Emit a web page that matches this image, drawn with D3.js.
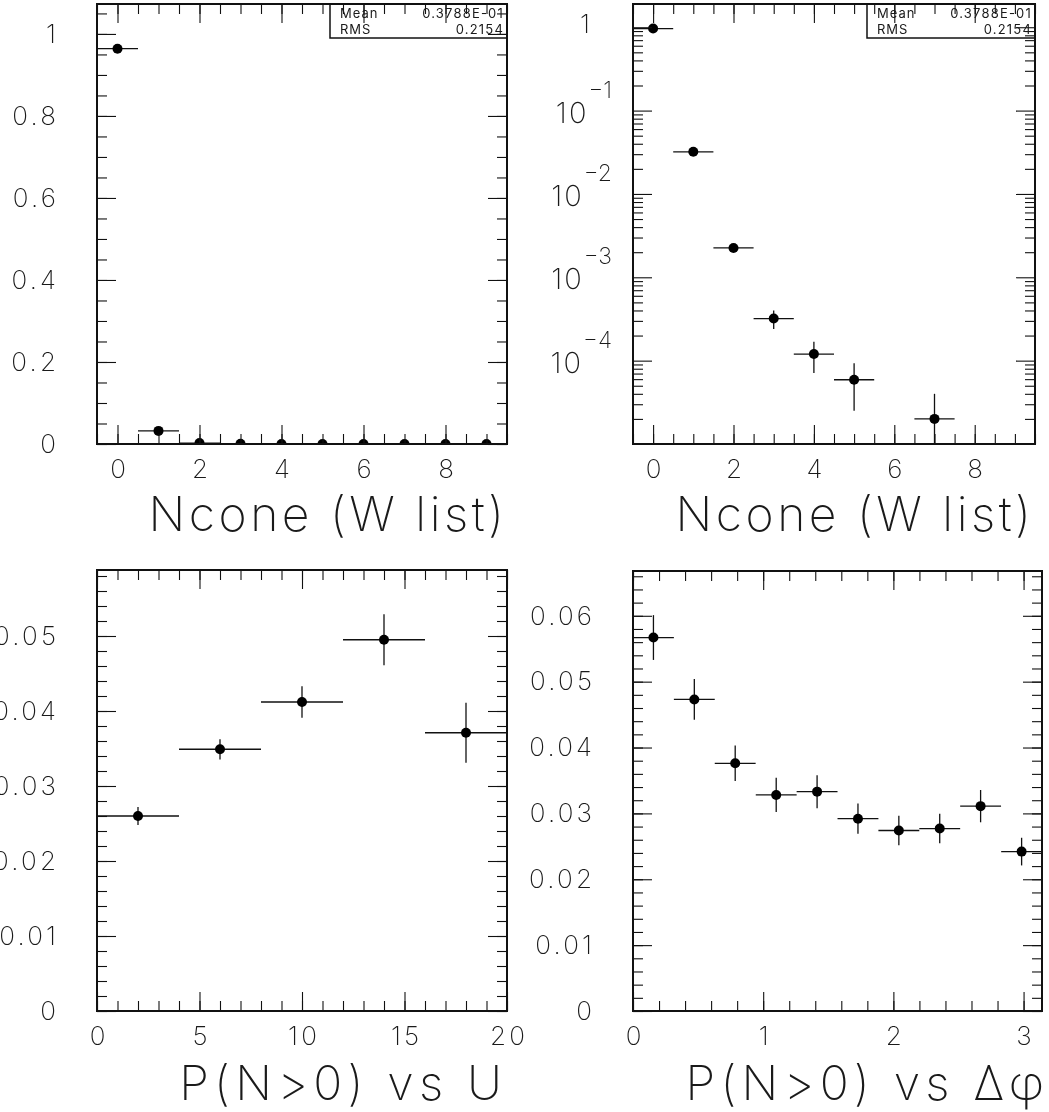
<!DOCTYPE html>
<html>
<head>
<meta charset="utf-8">
<script src="https://cdn.jsdelivr.net/npm/d3@7"></script>
<style>
  html, body { margin: 0; padding: 0; background: #fff; }
  svg { display: block; filter: grayscale(1); }
  text { font-family: "Inter", "Lato", "Roboto", "DejaVu Sans", sans-serif; fill: #1a1a1a; }
</style>
</head>
<body>
<svg id="chart" width="1049" height="1112"></svg>
<script>
// ---- Ncone distribution (fraction of events per cone multiplicity) ----
const nconeBins = [0, 1, 2, 3, 4, 5, 6, 7, 8, 9];
const nconeFrac = [0.964, 0.032, 0.00225, 0.00032, 0.00012, 0.000059, 0, 0.00002, 0, 0];
const nconeErr  = [0.0044, 0.0008, 0.00021, 0.00008, 0.000049, 0.000034, 0, 0.00002, 0, 0];
const nconeTicks = [0, 2, 4, 6, 8];
const fracTicks = [0, 0.2, 0.4, 0.6, 0.8, 1];
const fracTickLabels = ["0", "0.2", "0.4", "0.6", "0.8", "1"];
const logDecades = [0, -1, -2, -3, -4];
const statNames = ["Mean", "RMS"];
const statValues = ["0.3788E-01", "0.2154"];

// ---- P(N>0) as a function of U ----
const uCentres = [2, 6, 10, 14, 18];
const uHalfWidth = 2;
const probU    = [0.0260, 0.0349, 0.0412, 0.0495, 0.0371];
const probUErr = [0.0012, 0.00135, 0.0021, 0.0034, 0.0040];
const uTicks = [0, 5, 10, 15, 20];
const probUTicks = [0, 0.01, 0.02, 0.03, 0.04, 0.05];
const probUTickLabels = ["0", "0.01", "0.02", "0.03", "0.04", "0.05"];

// ---- P(N>0) as a function of delta-phi ----
const dphiCentres = [0.157, 0.471, 0.785, 1.100, 1.414, 1.728, 2.042, 2.356, 2.670, 2.985];
const dphiHalfWidth = 0.157;
const probDphi    = [0.0567, 0.0473, 0.0376, 0.0328, 0.0333, 0.0292, 0.0274, 0.0277, 0.0311, 0.0242];
const probDphiErr = [0.0034, 0.0031, 0.0027, 0.0026, 0.0025, 0.0023, 0.00225, 0.00225, 0.00245, 0.0021];
const dphiTicks = [0, 1, 2, 3];
const probDphiTicks = [0, 0.01, 0.02, 0.03, 0.04, 0.05, 0.06];
const probDphiTickLabels = ["0", "0.01", "0.02", "0.03", "0.04", "0.05", "0.06"];

const titles = ["Ncone (W list)", "Ncone (W list)", "P(N>0) vs U", "P(N>0) vs \u0394\u03c6"];

const svg = d3.select("#chart");
const INK = "#111";
const MAJOR = 19, MINOR = 10;
const LABEL_SIZE = 26, LABEL_SPACING = 3.2;
const TITLE_SIZE = 48;

function between(v, dom) {
  const lo = Math.min(dom[0], dom[1]), hi = Math.max(dom[0], dom[1]);
  return v >= lo - 1e-9 && v <= hi + 1e-9;
}

// Inward-pointing ticks on all four sides of a frame
function drawFrame(id, x, y, xMajor, xMinor, yMajor, yMinor) {
  const [x0, x1] = x.range();
  const [y1, y0] = y.range();
  const g = svg.append("g").attr("class", "frame-" + id);
  const strip = sel => sel.select(".domain").remove();
  const style = sel => sel.selectAll("line").attr("stroke", INK).attr("stroke-width", 1.1);
  const sides = [
    [d3.axisBottom, `translate(0,${y1})`, x, xMajor, xMinor],
    [d3.axisTop, `translate(0,${y0})`, x, xMajor, xMinor],
    [d3.axisLeft, `translate(${x0},0)`, y, yMajor, yMinor],
    [d3.axisRight, `translate(${x1},0)`, y, yMajor, yMinor]
  ];
  sides.forEach(([ax, tr, sc, maj, min]) => {
    g.append("g").attr("transform", tr)
      .call(ax(sc).tickValues(min.filter(v => between(v, sc.domain()))).tickSize(-MINOR).tickFormat(""))
      .call(strip).call(style);
    g.append("g").attr("transform", tr)
      .call(ax(sc).tickValues(maj.filter(v => between(v, sc.domain()))).tickSize(-MAJOR).tickFormat(""))
      .call(strip).call(style);
  });
  g.append("rect")
    .attr("x", x0).attr("y", y0).attr("width", x1 - x0).attr("height", y1 - y0)
    .attr("fill", "none").attr("stroke", INK).attr("stroke-width", 2);
  return g;
}

function styleLabels(sel) {
  sel.select(".domain").remove();
  sel.attr("font-family", null).attr("font-size", null);
  sel.selectAll("text").attr("font-size", LABEL_SIZE).attr("font-weight", 200)
    .attr("letter-spacing", LABEL_SPACING).attr("fill", INK);
}

function labelAxes(x, y, xTicks, yTicks, yLabels) {
  const [x0] = x.range();
  const [y1] = y.range();
  svg.append("g").attr("transform", `translate(${LABEL_SPACING / 2},${y1})`)
    .call(d3.axisBottom(x).tickValues(xTicks).tickSize(0).tickPadding(16).tickFormat(d3.format("d")))
    .call(styleLabels);
  if (yTicks) {
    svg.append("g").attr("transform", `translate(${x0 + LABEL_SPACING},0)`)
      .call(d3.axisLeft(y).tickValues(yTicks).tickSize(0).tickPadding(41)
        .tickFormat((d, i) => yLabels[i]))
      .call(styleLabels);
  }
}

function title(text, xRight, baseline, spacing) {
  svg.append("text").attr("x", xRight + spacing).attr("y", baseline)
    .attr("text-anchor", "end").attr("font-size", TITLE_SIZE).attr("font-weight", 200)
    .attr("letter-spacing", spacing).attr("fill", INK).text(text);
}

let clipCount = 0;
function clipFor(x, y) {
  const id = "clip" + (clipCount++);
  const [x0, x1] = x.range();
  const [y1, y0] = y.range();
  svg.append("clipPath").attr("id", id).append("rect")
    .attr("x", x0).attr("y", y0).attr("width", x1 - x0).attr("height", y1 - y0);
  return `url(#${id})`;
}

// Points with horizontal bin-width bars and vertical statistical error bars
function drawPoints(x, y, centres, half, vals, errs, floor) {
  const g = svg.append("g").attr("clip-path", clipFor(x, y));
  const rows = centres.map((c, i) => ({ c, v: vals[i], e: errs[i] }))
    .filter(d => floor === undefined || d.v > 0);
  const yv = v => (floor !== undefined ? y(Math.max(v, floor)) : y(v));
  g.selectAll("line.h").data(rows).join("line").attr("class", "h")
    .attr("x1", d => x(d.c - half)).attr("x2", d => x(d.c + half))
    .attr("y1", d => yv(d.v)).attr("y2", d => yv(d.v))
    .attr("stroke", INK).attr("stroke-width", 1.3);
  g.selectAll("line.v").data(rows.filter(d => d.e > 0)).join("line").attr("class", "v")
    .attr("x1", d => x(d.c)).attr("x2", d => x(d.c))
    .attr("y1", d => yv(d.v - d.e)).attr("y2", d => yv(d.v + d.e))
    .attr("stroke", INK).attr("stroke-width", 1.3);
  g.selectAll("circle").data(rows).join("circle")
    .attr("cx", d => x(d.c)).attr("cy", d => yv(d.v)).attr("r", 5).attr("fill", "#000");
}

function statsBox(xLeft, xRight, yTop, yBottom) {
  const g = svg.append("g");
  g.append("rect").attr("x", xLeft).attr("y", yTop)
    .attr("width", xRight - xLeft).attr("height", yBottom - yTop)
    .attr("fill", "none").attr("stroke", INK).attr("stroke-width", 1.5);
  statNames.forEach((n, i) => {
    const base = yTop + 14 + i * 16;
    g.append("text").attr("x", xLeft + 10).attr("y", base)
      .attr("font-size", 13).attr("letter-spacing", 1).attr("fill", INK).text(n);
    g.append("text").attr("x", xRight - 3).attr("y", base).attr("text-anchor", "end")
      .attr("font-size", 13).attr("letter-spacing", 1.2).attr("fill", INK).text(statValues[i]);
  });
}

// ---------- Panel 1: Ncone, linear ----------
{
  const x = d3.scaleLinear([-0.5, 9.5], [97, 507]);
  const y = d3.scaleLinear([0, 1.073], [444, 4]);
  drawPoints(x, y, nconeBins, 0.5, nconeFrac, nconeErr);
  drawFrame("ncone-lin", x, y, nconeTicks, d3.range(-0.5, 9.51, 0.5),
    fracTicks, d3.range(0, 1.0751, 0.05));
  labelAxes(x, y, nconeTicks, fracTicks, fracTickLabels);
  statsBox(330, 507, 4, 38);
  title(titles[0], 504, 531, 3.5);
}

// ---------- Panel 2: Ncone, logarithmic ----------
{
  const x = d3.scaleLinear([-0.5, 9.5], [633, 1035]);
  const y = d3.scaleLog([1e-5, 1.9], [444, 4]);
  const majors = logDecades.map(e => Math.pow(10, e));
  const minors = [];
  for (let e = -5; e <= 0; e++) for (let m = 2; m <= 9; m++) minors.push(m * Math.pow(10, e));
  drawPoints(x, y, nconeBins, 0.5, nconeFrac, nconeErr, 1e-6);
  drawFrame("ncone-log", x, y, nconeTicks, d3.range(-0.5, 9.51, 0.5), majors, minors);
  labelAxes(x, y, nconeTicks, null, null);
  const lg = svg.append("g");
  logDecades.forEach(e => {
    const ty = y(Math.pow(10, e));
    if (e === 0) {
      lg.append("text").attr("x", 590).attr("y", ty + 6).attr("text-anchor", "end")
        .attr("font-size", LABEL_SIZE).attr("font-weight", 200).text("1");
    } else {
      const t = lg.append("text").attr("x", 612).attr("y", ty + 12).attr("text-anchor", "end")
        .attr("font-size", 29).attr("font-weight", 200);
      t.append("tspan").attr("letter-spacing", 2).text("10");
      t.append("tspan").attr("dy", -25).attr("font-size", 23).text("\u2212" + (-e));
    }
  });
  statsBox(867, 1035, 4, 38);
  title(titles[1], 1031, 531, 3.5);
}

// ---------- Panel 3: P(N>0) vs U ----------
{
  const x = d3.scaleLinear([0, 20], [97, 507]);
  const y = d3.scaleLinear([0, 0.0588], [1011, 570]);
  drawPoints(x, y, uCentres, uHalfWidth, probU, probUErr);
  drawFrame("prob-u", x, y, uTicks, d3.range(0, 20.01, 1),
    probUTicks, d3.range(0, 0.0589, 0.002));
  labelAxes(x, y, uTicks, probUTicks, probUTickLabels);
  title(titles[2], 502, 1100, 5.2);
}

// ---------- Panel 4: P(N>0) vs delta-phi ----------
{
  const x = d3.scaleLinear([0, Math.PI], [633, 1042]);
  const y = d3.scaleLinear([0, 0.0668], [1011, 571]);
  drawPoints(x, y, dphiCentres, dphiHalfWidth, probDphi, probDphiErr);
  drawFrame("prob-dphi", x, y, dphiTicks, d3.range(0, 3.15, 0.2),
    probDphiTicks, d3.range(0, 0.0669, 0.002));
  labelAxes(x, y, dphiTicks, probDphiTicks, probDphiTickLabels);
  title(titles[3], 1044, 1100, 5.2);
}
</script>
</body>
</html>
